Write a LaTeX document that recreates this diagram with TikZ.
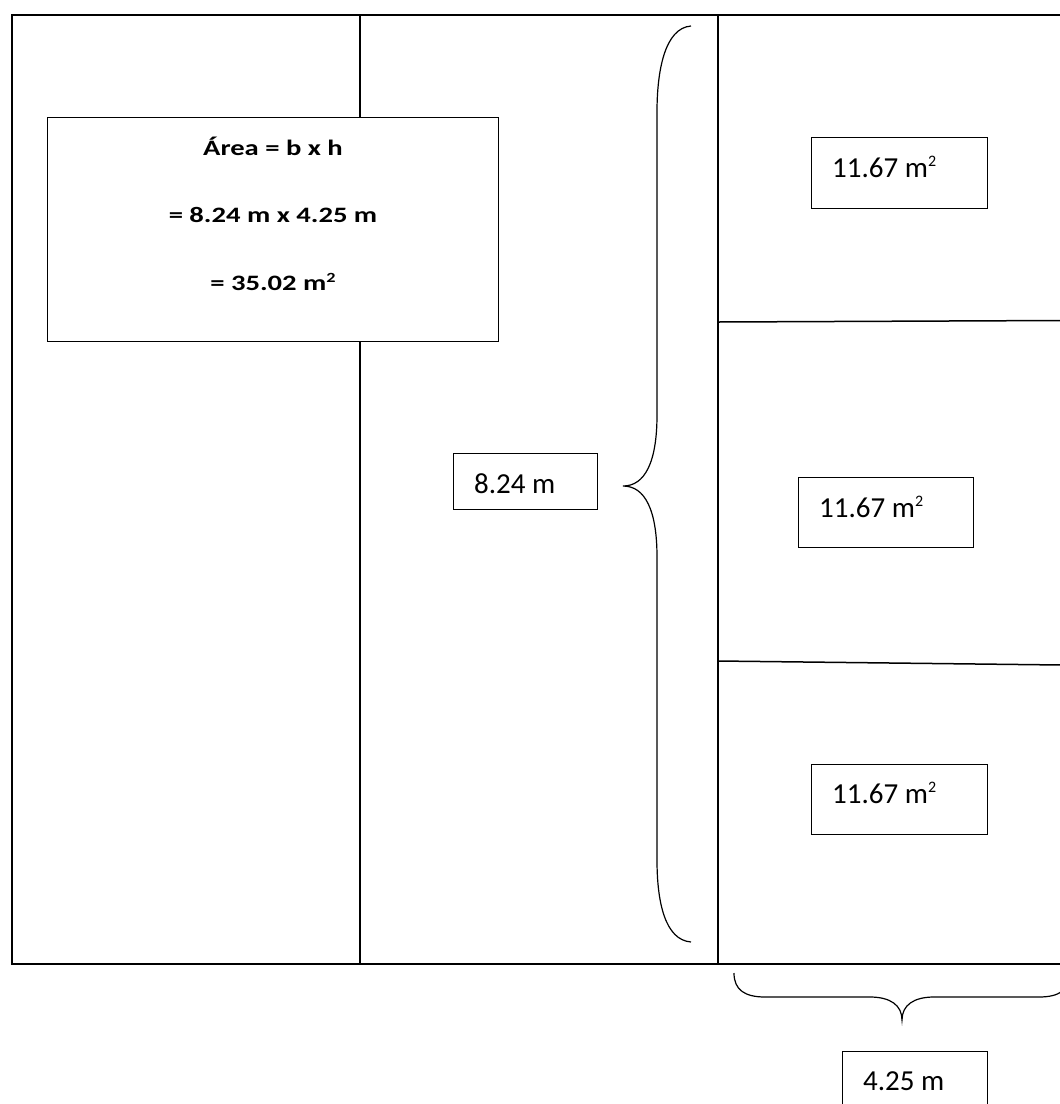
\documentclass[tikz,border=0pt]{standalone}
\usepackage{fontspec}
\setmainfont{Carlito}
\newfontfamily\bwide[FakeStretch=1.3]{Carlito}
\newcommand{\sqr}{\raisebox{10.5pt}{\fontsize{16}{16}\selectfont 2}}
\newcommand{\sqb}{\raisebox{8pt}{\fontsize{14}{14}\selectfont 2}}
\begin{document}
\begin{tikzpicture}[x=1pt,y=-1pt,
  wall/.style={line width=1.6pt},
  part/.style={line width=1.5pt},
  brace/.style={line width=1.2pt},
  box/.style={draw,line width=1.3pt,fill=white,anchor=north west,inner sep=0pt},
  lbl/.style={anchor=base west,inner sep=0pt,font=\fontsize{29}{34}\selectfont},
  blbl/.style={anchor=base,inner sep=0pt,font=\bwide\bfseries\fontsize{22}{26}\selectfont}]
\useasboundingbox (0,0) rectangle (1060,1104);
% walls
\coordinate (tl) at (12,15);
\coordinate (tr) at (1062,15);
\coordinate (bl) at (12,964);
\coordinate (br) at (1062,964);
\coordinate (m1t) at (360,15);
\coordinate (m1b) at (360,964);
\coordinate (m2t) at (718,15);
\coordinate (m2b) at (718,964);
\coordinate (d1l) at (718,322);
\coordinate (d1r) at (1062,320.5);
\coordinate (d2l) at (718,661);
\coordinate (d2r) at (1062,665);
\draw[wall] (tr) -- (tl) -- (bl) -- (br);
\draw[wall] (m1t) -- (m1b);
\draw[wall] (m2t) -- (m2b);
\draw[part] (d1l) -- (d1r);
\draw[part] (d2l) -- (d2r);
% big formula box
\node[box,minimum width=451pt,minimum height=224pt] (fbox) at (47,117) {};
\node[blbl] (f1) at (273,155) {Área = b x h};
\node[blbl] (f2) at (273,222) {= 8.24 m x 4.25 m};
\node[blbl] (f3) at (273,290) {= 35.02 m\sqb};
% area boxes
\node[box,minimum width=176pt,minimum height=71pt] (a1) at (811,137) {};
\node[lbl] (a1t) at (832,177) {11.67 m\sqr};
\node[box,minimum width=175pt,minimum height=70pt] (a2) at (798,477) {};
\node[lbl] (a2t) at (819,517) {11.67 m\sqr};
\node[box,minimum width=176pt,minimum height=70pt] (a3) at (811,764) {};
\node[lbl] (a3t) at (832,803) {11.67 m\sqr};
% dimension boxes
\node[box,minimum width=144pt,minimum height=56pt] (hbox) at (453,453) {};
\node[lbl] (ht) at (474,493) {8.24 m};
\node[box,minimum width=145pt,minimum height=60pt] (bbox) at (842,1051) {};
\node[lbl] (bt) at (863,1090) {4.25 m};
% vertical brace
\coordinate (vb1) at (691,26);
\coordinate (vb2) at (691,942);
\draw[brace] (vb1) .. controls (665,28) and (657,70) .. (657,112) -- (657,415)
  .. controls (657,462) and (645,486) .. (623,486)
  .. controls (645,486) and (657,510) .. (657,557) -- (657,860)
  .. controls (657,902) and (665,940) .. (vb2);
% horizontal brace
\coordinate (hb1) at (734,973);
\coordinate (hb2) at (1070,973);
\draw[brace] (hb1) .. controls (734,990) and (745,997) .. (765,997) -- (870,997)
  .. controls (890,997) and (902,1005) .. (902,1020)
  .. controls (902,1005) and (914,997) .. (934,997) -- (1039,997)
  .. controls (1059,997) and (1070,990) .. (hb2);
\end{tikzpicture}
\end{document}
